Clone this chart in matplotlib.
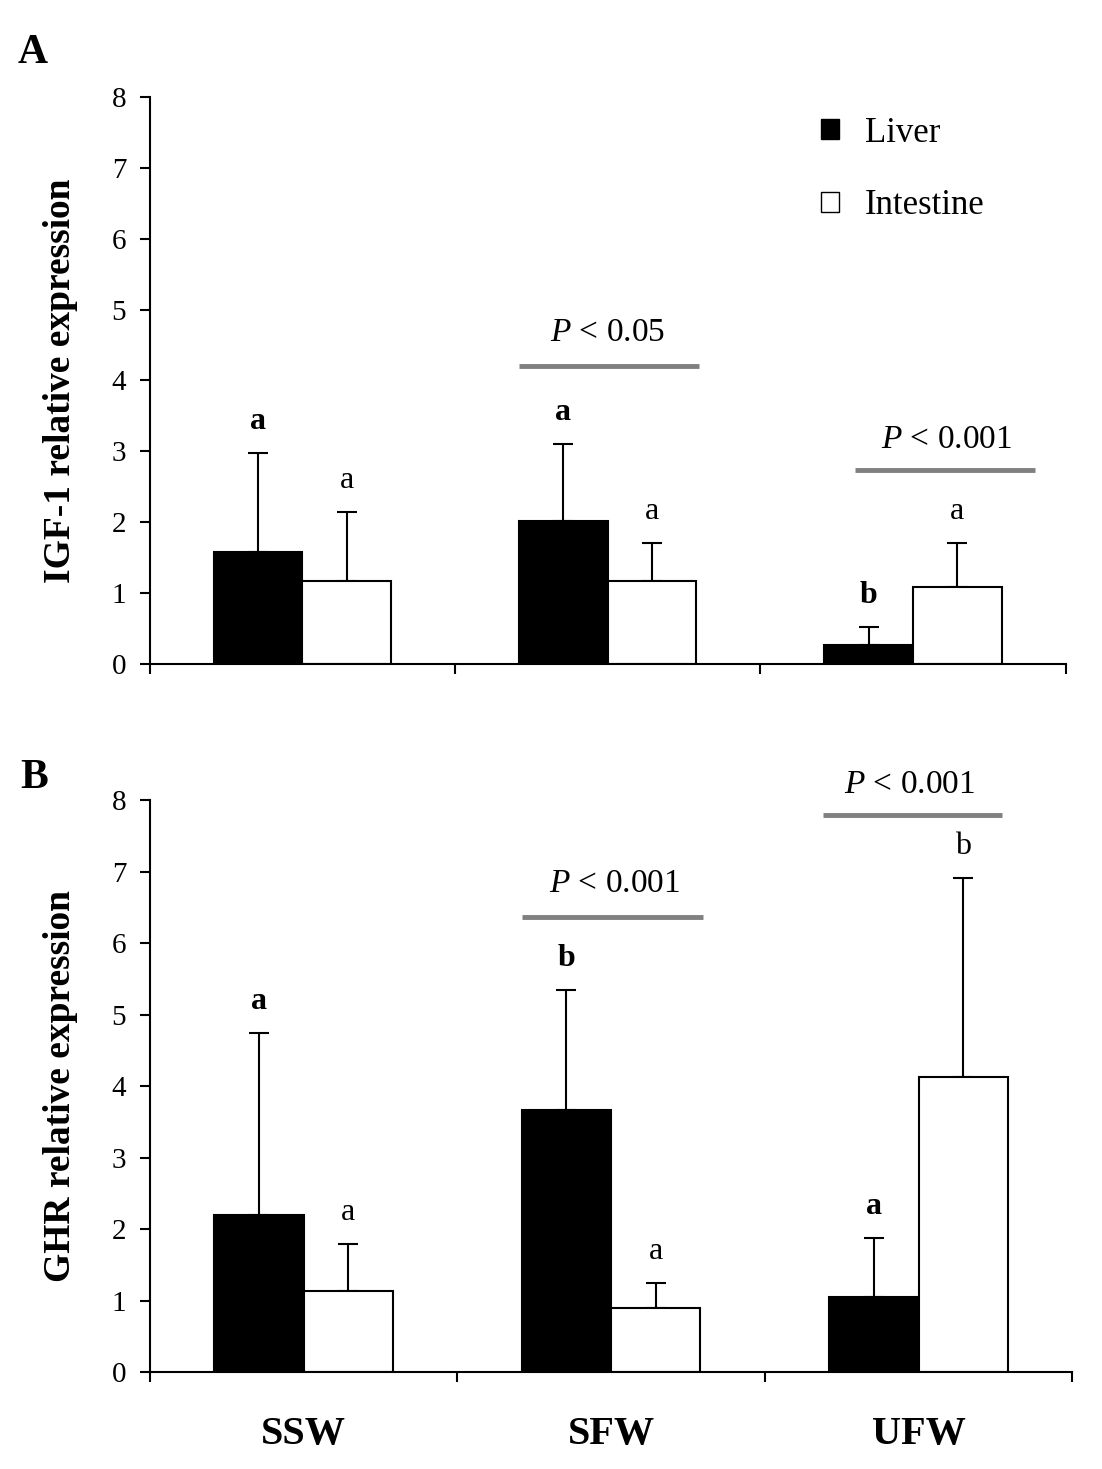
import numpy as np
import matplotlib
matplotlib.use('Agg')
import matplotlib.pyplot as plt
from matplotlib.patches import Patch

plt.rcParams['font.family'] = ['Liberation Serif', 'DejaVu Serif']
plt.rcParams['mathtext.fontset'] = 'custom'
plt.rcParams['mathtext.it'] = 'Liberation Serif:italic'
plt.rcParams['mathtext.rm'] = 'Liberation Serif'

# Data
groups = ['SSW', 'SFW', 'UFW']

# Panel A: IGF-1
igf_liver = [1.58, 2.02, 0.27]
igf_liver_sd = [1.40, 1.09, 0.25]
igf_int = [1.17, 1.17, 1.09]
igf_int_sd = [0.98, 0.54, 0.62]
igf_liver_letters = ['a', 'a', 'b']
igf_int_letters = ['a', 'a', 'a']

# Panel B: GHR
ghr_liver = [2.19, 3.66, 1.05]
ghr_liver_sd = [2.55, 1.68, 0.83]
ghr_int = [1.14, 0.90, 4.13]
ghr_int_sd = [0.65, 0.35, 2.78]
ghr_liver_letters = ['a', 'b', 'a']
ghr_int_letters = ['a', 'a', 'b']

# P-value brackets: (group index, line y, p text, x-start offset, x-end offset, text offset, text y)
igf_pvals = [(1, 4.2, '0.05', -0.29, 0.30, 0.0, 4.67),
             (2, 2.74, '0.001', -0.19, 0.40, 0.11, 3.16)]
ghr_pvals = [(1, 6.37, '0.001', -0.29, 0.30, 0.01, 6.83),
             (2, 7.79, '0.001', -0.31, 0.27, -0.03, 8.22)]

fig = plt.figure(figsize=(11.02, 14.69), dpi=100)
axA = fig.add_axes([0.136, 0.548, 0.831, 0.386])
axB = fig.add_axes([0.136, 0.066, 0.837, 0.3894])

width = 0.29
x = np.arange(len(groups))


def draw_panel(ax, liver, liver_sd, intest, intest_sd, lv_let, in_let, pvals, ylabel):
    ax.bar(x - width / 2, liver, width, color='black', edgecolor='black', lw=1.5, label='Liver', zorder=2)
    ax.bar(x + width / 2, intest, width, color='white', edgecolor='black', lw=1.5, label='Intestine', zorder=2)
    ax.errorbar(x - width / 2, liver, yerr=[np.zeros(3), liver_sd], fmt='none', ecolor='black',
                elinewidth=1.5, capsize=7, capthick=1.5, zorder=1)
    ax.errorbar(x + width / 2, intest, yerr=[np.zeros(3), intest_sd], fmt='none', ecolor='black',
                elinewidth=1.5, capsize=7, capthick=1.5, zorder=1)

    for i in range(3):
        ax.text(x[i] - width / 2, liver[i] + liver_sd[i] + 0.44, lv_let[i], ha='center', va='center',
                fontsize=23, fontweight='bold')
        ax.text(x[i] + width / 2, intest[i] + intest_sd[i] + 0.44, in_let[i], ha='center', va='center',
                fontsize=23)

    for gi, ly, ptxt, x0, x1, tdx, ty in pvals:
        ax.plot([gi + x0, gi + x1], [ly, ly], color='#808080', lw=3.5, solid_capstyle='butt', clip_on=False)
        ax.text(gi + tdx, ty, r'$\mathit{P}$ < ' + ptxt, ha='center', va='center', fontsize=24, clip_on=False)

    ax.set_xlim(-0.5, 2.5)
    ax.set_ylim(0, 8)
    ax.set_yticks(range(0, 9))
    ax.tick_params(axis='y', labelsize=21, length=7, width=1.5, pad=10)
    ax.set_xticks([-0.5, 0.5, 1.5, 2.5])
    ax.set_xticklabels([])
    ax.tick_params(axis='x', direction='out', length=7, width=1.5)
    ax.spines['top'].set_visible(False)
    ax.spines['right'].set_visible(False)
    ax.spines['left'].set_linewidth(1.5)
    ax.spines['bottom'].set_linewidth(1.5)
    ax.set_ylabel(ylabel, fontsize=27, fontweight='bold', labelpad=24)


draw_panel(axA, igf_liver, igf_liver_sd, igf_int, igf_int_sd, igf_liver_letters, igf_int_letters,
           igf_pvals, 'IGF-1 relative expression')
draw_panel(axB, ghr_liver, ghr_liver_sd, ghr_int, ghr_int_sd, ghr_liver_letters, ghr_int_letters,
           ghr_pvals, 'GHR relative expression')

# Category labels only under panel B
axB.set_xticks(x, minor=True)
axB.set_xticklabels(groups, minor=True, fontsize=29, fontweight='bold')
axB.tick_params(axis='x', which='minor', length=0, pad=32)

# Legend in panel A
handles = [Patch(facecolor='black', edgecolor='black', label='Liver'),
           Patch(facecolor='white', edgecolor='black', label='Intestine')]
axA.legend(handles=handles, loc='upper left', bbox_to_anchor=(0.718, 0.99), borderaxespad=0,
           frameon=False, fontsize=25, handlelength=0.5, handleheight=0.5, handletextpad=0.75,
           labelspacing=1.15)

fig.text(0.016, 1 - 63 / 1469, 'A', fontsize=30, fontweight='bold', ha='left', va='baseline')
fig.text(0.018, 1 - 788 / 1469, 'B', fontsize=30, fontweight='bold', ha='left', va='baseline')

fig.savefig('out.png', dpi=100)
